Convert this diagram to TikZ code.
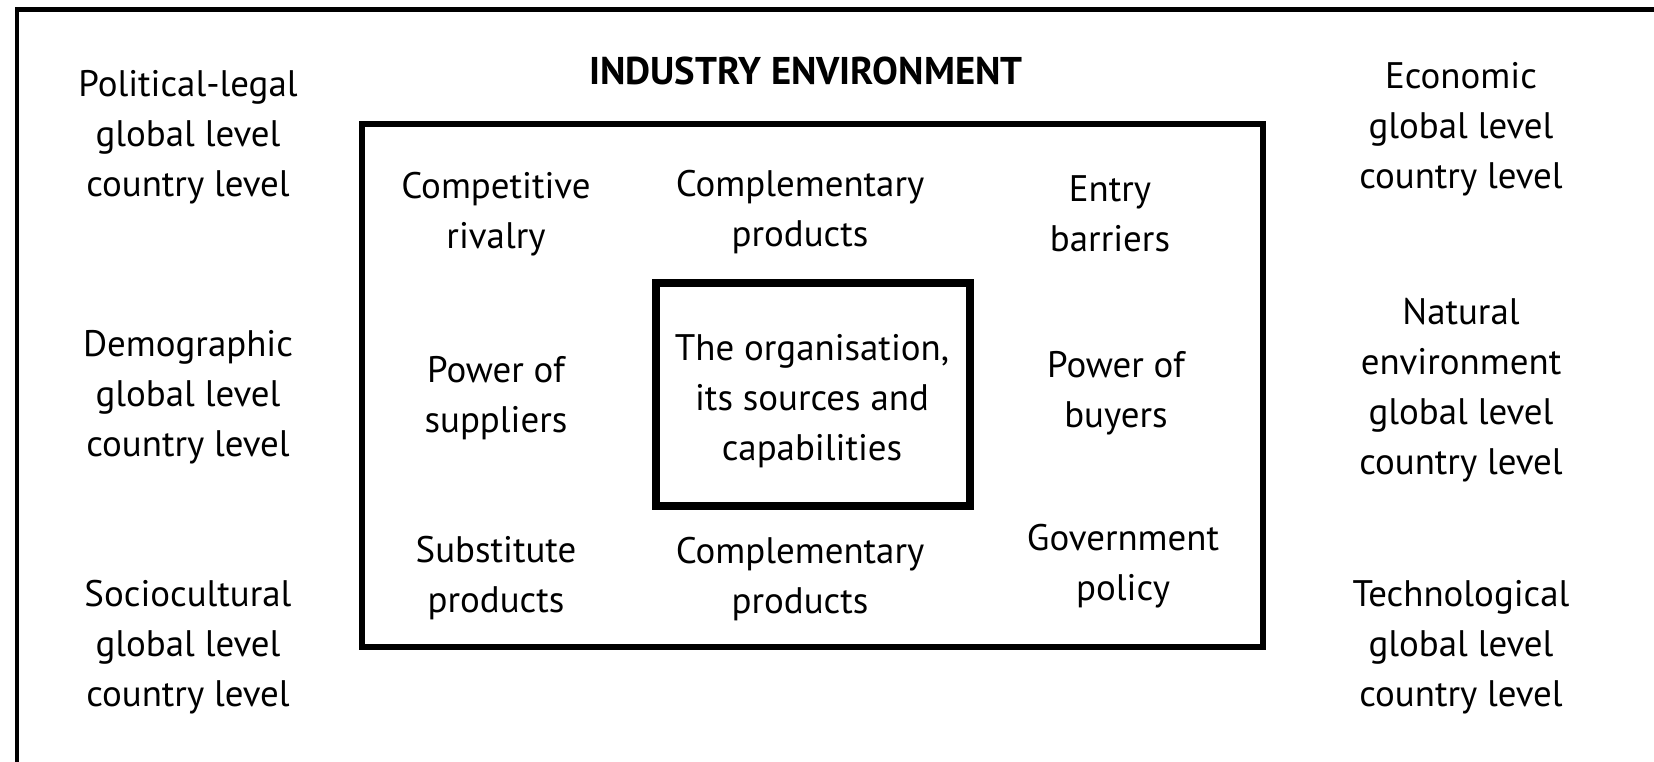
\documentclass[tikz,border=0pt]{standalone}
\usepackage{fontspec}
\setmainfont{PT Sans}
\usepackage{tikz}

\begin{document}
\begin{tikzpicture}[txt/.style={align=center, font=\fontsize{10.5}{14.2}\selectfont},
                    frame/.style={line width=#1, line cap=rect}]
            \useasboundingbox (0,0) rectangle (16.54,7.61);
            \draw[frame=1.2pt] (0.17,-0.2)--(0.17,7.515)--(16.8,7.515);
            \draw[frame=1.7pt] (3.62,1.14) rectangle (12.63,6.37);
            \draw[frame=2.3pt] (6.56,2.55) rectangle (9.70,4.78);
            \node[txt, font=\fontsize{11}{14}\selectfont\bfseries] (title) at (8.06,6.90) {INDUSTRY ENVIRONMENT};
            \node[txt] (polit) at (1.88,6.24) {Political-legal\\global level\\country level};
            \node[txt] (demo) at (1.88,3.64) {Demographic\\global level\\country level};
            \node[txt] (socio) at (1.88,1.14) {Sociocultural\\global level\\country level};
            \node[txt] (econ) at (14.61,6.32) {Economic\\global level\\country level};
            \node[txt] (nature) at (14.61,3.71) {Natural\\environment\\global level\\country level};
            \node[txt] (techno) at (14.61,1.14) {Technological\\global level\\country level};
            \node[txt] (rivalry) at (4.96,5.47) {Competitive\\rivalry};
            \node[txt] (complup) at (8.00,5.49) {Complementary\\products};
            \node[txt] (entry) at (11.10,5.47) {Entry\\barriers};
            \node[txt] (suppliers) at (4.96,3.63) {Power of\\suppliers};
            \node[txt] (org) at (8.12,3.60) {The organisation,\\its sources and\\capabilities};
            \node[txt] (buyers) at (11.16,3.68) {Power of\\buyers};
            \node[txt] (subst) at (4.96,1.83) {Substitute\\products};
            \node[txt] (compldown) at (8.00,1.82) {Complementary\\products};
            \node[txt] (govt) at (11.23,1.95) {Government\\policy};
        \end{tikzpicture}
\end{document}
